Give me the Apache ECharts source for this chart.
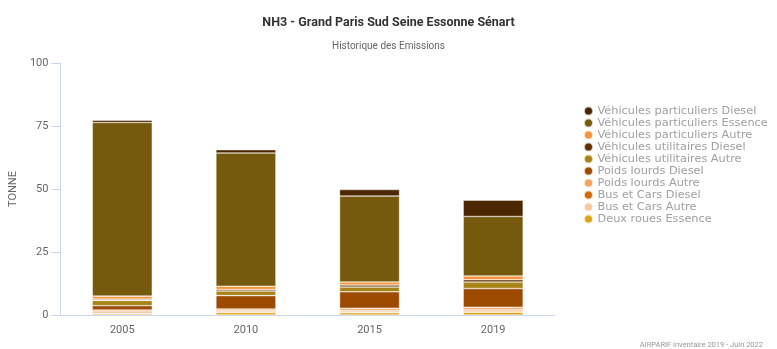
<!DOCTYPE html>
<html><head><meta charset="utf-8">
<script src="https://cdn.jsdelivr.net/npm/echarts@6/dist/echarts.min.js"></script>
<style>html,body{margin:0;padding:0;background:#fff}#c{width:777px;height:349px}</style>
</head><body><div id="c"></div>
<script>
const categories = ['2005', '2010', '2015', '2019'];
const seriesNames = [
  'Véhicules particuliers Diesel',
  'Véhicules particuliers Essence',
  'Véhicules particuliers Autre',
  'Véhicules utilitaires Diesel',
  'Véhicules utilitaires Autre',
  'Poids lourds Diesel',
  'Poids lourds Autre',
  'Bus et Cars Diesel',
  'Bus et Cars Autre',
  'Deux roues Essence'
];
const vpDiesel   = [0.9, 1.3, 2.6, 6.5];
const vpEssence  = [68.9, 52.9, 34.1, 23.6];
const vpAutre    = [1.2, 1.3, 1.2, 1.5];
const vuDiesel   = [0.5, 0.6, 0.8, 0.9];
const vuAutre    = [2.1, 1.8, 1.9, 2.6];
const plDiesel   = [1.7, 5.3, 6.5, 7.4];
const plAutre    = [0.5, 0.6, 0.8, 0.9];
const busDiesel  = [0.6, 0.4, 0.5, 0.5];
const busAutre   = [0.4, 0.4, 0.5, 0.6];
const deuxRoues  = [0.5, 1.0, 0.9, 1.1];
const yTicks = [0, 25, 50, 75, 100];
const colors = ['#4a2700', '#75590c', '#f7923a', '#5e3000', '#a6841a', '#9c4a00', '#f7a35c', '#d16a0c', '#fcc69c', '#dba51d'];
const values = [vpDiesel, vpEssence, vpAutre, vuDiesel, vuAutre, plDiesel, plAutre, busDiesel, busAutre, deuxRoues];

const series = [];
for (let i = values.length - 1; i >= 0; i--) {
  series.push({
    name: seriesNames[i], type: 'bar', stack: 's', data: values[i],
    barWidth: 60,
    itemStyle: { color: colors[i], borderColor: 'rgba(255,255,255,0.7)', borderWidth: 0.6 }
  });
}
const chart = echarts.init(document.getElementById('c'), null, { renderer: 'canvas' });
const narrow = 'Roboto, sans-serif';
chart.setOption({
  animation: false,
  color: colors,
  title: [
    { text: 'NH3 - Grand Paris Sud Seine Essonne Sénart', left: 'center', top: 11,
      textStyle: { fontFamily: narrow, fontSize: 12.5, fontWeight: 'bold', color: '#333' } },
    { text: 'Historique des Emissions', left: 'center', top: 36,
      textStyle: { fontFamily: narrow, fontSize: 10, fontWeight: 'normal', color: '#666' } },
    { text: 'AIRPARIF inventaire 2019 - Juin 2022', right: 9, top: 336,
      textStyle: { fontFamily: narrow, fontSize: 7.5, fontWeight: 'normal', color: '#999' } }
  ],
  legend: {
    orient: 'vertical', left: 578, top: 100,
    data: seriesNames,
    icon: 'circle', itemWidth: 10, itemHeight: 9, itemGap: 0,
    textStyle: { fontFamily: 'DejaVu Sans', fontSize: 11.3, color: '#a0a0a0', lineHeight: 12, padding: [0, 0, 0, -1] }
  },
  grid: { left: 57, right: 222, top: 63, bottom: 34, containLabel: false },
  xAxis: {
    type: 'category', data: categories,
    axisLine: { lineStyle: { color: '#ccd6eb' } },
    axisTick: { show: false },
    axisLabel: { fontFamily: narrow, fontSize: 11, color: '#666', margin: 10 }
  },
  yAxis: {
    type: 'value', min: yTicks[0], max: yTicks[yTicks.length - 1], interval: 25,
    name: 'TONNE', nameLocation: 'middle', nameGap: 35, nameRotate: 90,
    nameTextStyle: { fontFamily: narrow, fontSize: 11, color: '#666' },
    axisLine: { show: true, lineStyle: { color: '#ccd6eb' } },
    axisTick: { show: true, length: 9, lineStyle: { color: '#ccd6eb' } },
    splitLine: { show: false },
    axisLabel: { fontFamily: narrow, fontSize: 11, color: '#666', margin: 12 }
  },
  series: series
});
</script></body></html>
